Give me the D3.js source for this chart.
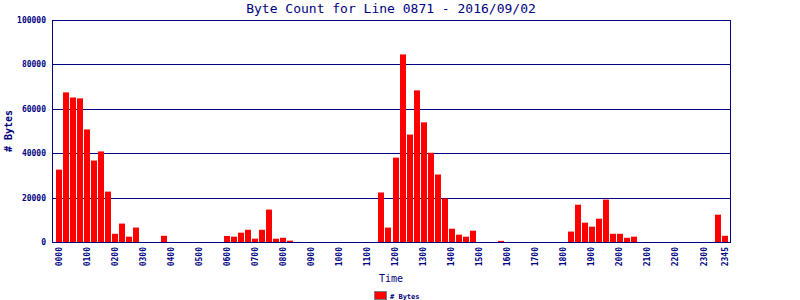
<!DOCTYPE html>
<html>
<head>
<meta charset="utf-8">
<script src="https://cdn.jsdelivr.net/npm/d3@7"></script>
<style>
  body { margin: 0; background: #fff; }
  text { font-family: "DejaVu Sans Mono", monospace; fill: #000080; }
</style>
</head>
<body>
<div class="chart"></div>
<script>
// 15 minute slots, 0000 .. 2345
const slots = d3.range(96).map(i => d3.format("02")(Math.floor(i / 4)) + d3.format("02")((i % 4) * 15))

const bytes = [
  32600, 67400, 65100, 64700, 50700, 36700, 40800, 22700,
  3700, 8300, 2400, 6500, 0, 0, 0, 2800,
  0, 0, 0, 0, 0, 0, 0, 0,
  2700, 2400, 4200, 5500, 1500, 5500, 14600, 1500,
  1900, 600, 0, 0, 0, 0, 0, 0,
  0, 0, 0, 0, 0, 0, 22300, 6500,
  38000, 84500, 48400, 68300, 53900, 40200, 30400, 19600,
  6000, 3300, 2400, 5100, 0, 0, 0, 500,
  0, 0, 0, 0, 0, 0, 0, 0,
  0, 4700, 16800, 8700, 6900, 10500, 19100, 3700,
  3700, 1900, 2400, 0, 0, 0, 0, 0,
  0, 0, 0, 0, 0, 0, 12300, 2800
]

const xTickLabels = slots.filter(s => s.endsWith("00")).concat(["2345"])
const yTicks = [0, 20000, 40000, 60000, 80000, 100000]

const title = "Byte Count for Line 0871 - 2016/09/02"
const seriesName = "# Bytes"

const width = 800, height = 300
const plot = {left: 52, right: 730, top: 20, bottom: 242}
const navy = "#000080"

const svg = d3.select(".chart").append("svg")
    .attr("width", width)
    .attr("height", height)

const x = d3.scaleBand()
    .domain(slots)
    .range([plot.left + 3.5, plot.right - 1.5])
    .paddingInner(1 / 7)
    .paddingOuter(0.07)

const y = d3.scaleLinear()
    .domain([0, 100000])
    .range([plot.bottom, plot.top])

// grid lines
svg.append("g")
  .selectAll("line")
  .data(yTicks)
  .join("line")
    .attr("x1", plot.left)
    .attr("x2", plot.right)
    .attr("y1", d => Math.round(y(d)) + 0.5)
    .attr("y2", d => Math.round(y(d)) + 0.5)
    .attr("stroke", navy)
    .attr("stroke-width", 1)

// bars
svg.append("g")
  .selectAll("rect")
  .data(bytes)
  .join("rect")
    .attr("x", (d, i) => Math.round(x(slots[i])))
    .attr("y", d => y(d))
    .attr("width", 6)
    .attr("height", d => plot.bottom - y(d))
    .attr("fill", "#ff0000")

// frame
svg.append("rect")
    .attr("x", plot.left + 0.5)
    .attr("y", plot.top + 0.5)
    .attr("width", plot.right - plot.left)
    .attr("height", plot.bottom - plot.top)
    .attr("fill", "none")
    .attr("stroke", navy)

// y axis
const yAxis = d3.axisLeft(y)
    .tickValues(yTicks)
    .tickFormat(d3.format("d"))
    .tickSize(0)
    .tickPadding(6)

svg.append("g")
    .attr("transform", `translate(${plot.left},0)`)
    .call(yAxis)
    .call(g => g.select(".domain").remove())
    .call(g => g.selectAll("text")
        .attr("font-family", "DejaVu Sans Mono, monospace")
        .attr("font-size", 8)
        .attr("font-weight", "bold")
        .attr("fill", navy))

// x axis, rotated labels
const xAxis = d3.axisBottom(x)
    .tickValues(xTickLabels)
    .tickSize(0)
    .tickPadding(0)

svg.append("g")
    .attr("transform", `translate(0,${plot.bottom})`)
    .call(xAxis)
    .call(g => g.select(".domain").remove())
    .call(g => g.selectAll("text")
        .attr("font-family", "DejaVu Sans Mono, monospace")
        .attr("font-size", 8)
        .attr("font-weight", "bold")
        .attr("fill", navy)
        .attr("transform", "rotate(-90)")
        .attr("text-anchor", "end")
        .attr("x", -5)
        .attr("y", 0)
        .attr("dy", "0.32em")
        .attr("dx", 0))

// titles
svg.append("text")
    .attr("x", (plot.left + plot.right) / 2)
    .attr("y", 13)
    .attr("text-anchor", "middle")
    .attr("font-size", 13)
    .text(title)

svg.append("text")
    .attr("transform", `translate(12,${(plot.top + plot.bottom) / 2}) rotate(-90)`)
    .attr("text-anchor", "middle")
    .attr("font-size", 10)
    .attr("font-weight", "bold")
    .text(seriesName)

svg.append("text")
    .attr("x", (plot.left + plot.right) / 2)
    .attr("y", 282)
    .attr("text-anchor", "middle")
    .attr("font-size", 10)
    .text("Time")

// legend
const legend = svg.append("g").attr("transform", "translate(374,291)")
legend.append("rect")
    .attr("x", 0.5)
    .attr("y", 0.5)
    .attr("width", 12)
    .attr("height", 8)
    .attr("fill", "#ff0000")
    .attr("stroke", "#808080")
legend.append("text")
    .attr("x", 16)
    .attr("y", 7.5)
    .attr("font-size", 7)
    .attr("font-weight", "bold")
    .text(seriesName)
</script>
</body>
</html>
